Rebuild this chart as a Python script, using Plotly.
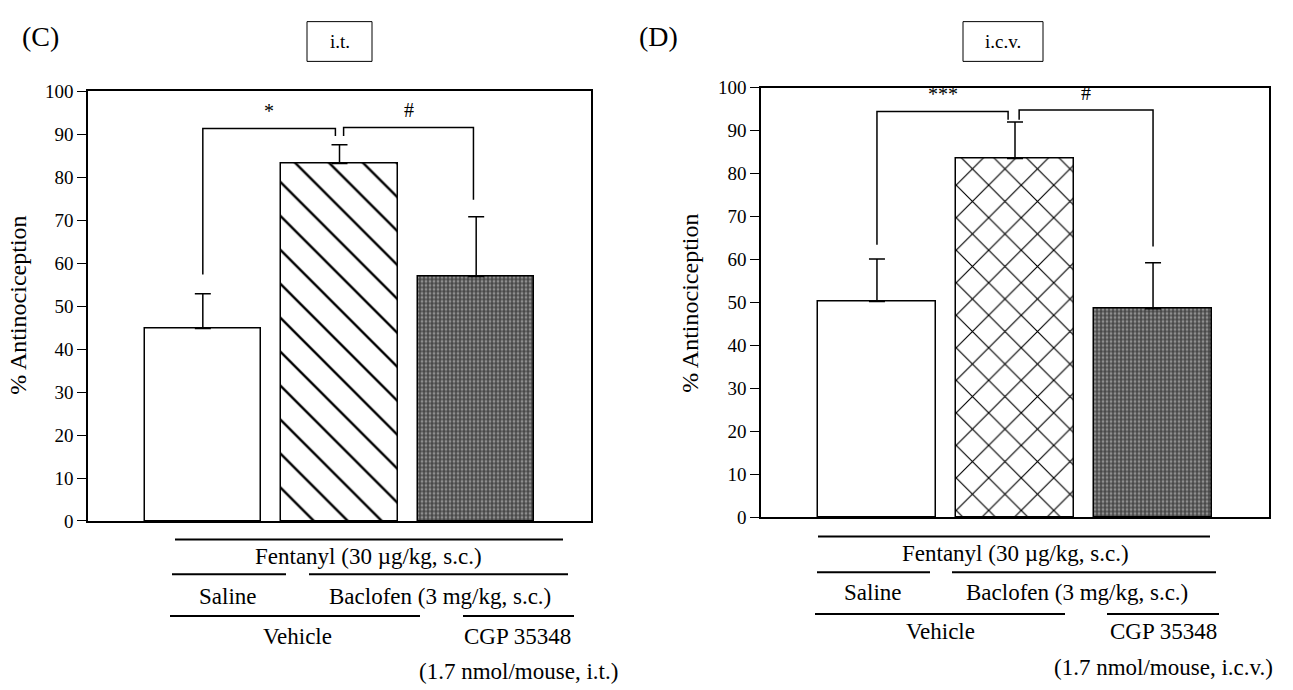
import plotly.graph_objects as go

# ---------------- data ----------------
groups = ["Saline", "Baclofen", "Baclofen + CGP 35348"]
it_means = [44.8, 83.2, 56.9]
it_sem = [8.1, 4.4, 13.9]
icv_means = [50.2, 83.5, 48.5]
icv_sem = [9.9, 8.5, 10.7]
yticks = [0, 10, 20, 30, 40, 50, 60, 70, 80, 90, 100]

# significance brackets: (x_left, x_right, top, drop_left, drop_right, label)
it_brackets = [(0.0, 0.97, 91.4, 57.4, 89.6, "*"), (1.03, 1.98, 91.6, 89.6, 74.8, "#")]
icv_brackets = [(0.0, 0.95, 94.4, 63.4, 92.5, "***"), (1.03, 2.0, 94.8, 92.5, 63.0, "#")]

W, H = 1293, 690
FONT = "Liberation Serif, Times New Roman, serif"


def px(x):
    return x / W


def py(y):
    return 1 - y / H


fig = go.Figure()

pat_hatch = dict(shape="\\", size=24, solidity=0.1, fgcolor="black", fgopacity=1, bgcolor="white")
pat_cross = dict(shape="x", size=23, solidity=0.1, fgcolor="black", fgopacity=1, bgcolor="white")
pat_dark = dict(shape=".", size=4, solidity=0.4, fgcolor="#8f8f8f", fgopacity=1, bgcolor="#484848")


def add_panel(means, sem, pats, xa, ya):
    for i, (m, s, p) in enumerate(zip(means, sem, pats)):
        marker = dict(color="white", line=dict(color="black", width=1.5))
        if p is not None:
            marker["pattern"] = p
            if p["shape"] == ".":
                marker["color"] = "#484848"
        fig.add_trace(go.Bar(
            x=[i], y=[m], width=0.85, marker=marker,
            error_y=dict(type="data", array=[s], arrayminus=[0], symmetric=False,
                         color="black", thickness=1.5, width=8),
            xaxis=xa, yaxis=ya, showlegend=False,
        ))


add_panel(it_means, it_sem, [None, pat_hatch, pat_dark], "x", "y")
add_panel(icv_means, icv_sem, [None, pat_cross, pat_dark], "x2", "y2")

shapes = []
annotations = []


def add_brackets(brs, xref, yref):
    for (xl, xr, top, dl, dr, lab) in brs:
        shapes.append(dict(type="path", xref=xref, yref=yref,
                           path=f"M {xl},{dl} L {xl},{top} L {xr},{top} L {xr},{dr}",
                           line=dict(color="black", width=1.5)))
        annotations.append(dict(x=(xl + xr) / 2, y=top + 1.0, xref=xref, yref=yref,
                                text=lab, showarrow=False, yanchor="bottom",
                                font=dict(family=FONT, size=20, color="black")))


add_brackets(it_brackets, "x", "y")
add_brackets(icv_brackets, "x2", "y2")


def hline(x0, x1, y):
    shapes.append(dict(type="line", xref="paper", yref="paper",
                       x0=px(x0), x1=px(x1), y0=py(y), y1=py(y),
                       line=dict(color="black", width=2)))


def text(x, y, s, size=23):
    annotations.append(dict(x=px(x), y=py(y), xref="paper", yref="paper", text=s,
                            showarrow=False, xanchor="center", yanchor="middle",
                            font=dict(family=FONT, size=size, color="black")))


# left panel labels below the axis
hline(175, 563, 546); text(368, 564, "Fentanyl (30 µg/kg, s.c.)")
hline(172, 286, 582); hline(309, 568, 582)
text(228, 605, "Saline"); text(440, 605, "Baclofen (3 mg/kg, s.c.)")
hline(170, 420, 625); hline(463, 574, 625)
text(297, 646, "Vehicle"); text(517, 646, "CGP 35348")
text(518, 682, "(1.7 nmol/mouse, i.t.)")

# right panel labels below the axis
hline(818, 1210, 543); text(1015, 561, "Fentanyl (30 µg/kg, s.c.)")
hline(817, 930, 580); hline(952, 1216, 580)
text(873, 601, "Saline"); text(1077, 601, "Baclofen (3 mg/kg, s.c.)")
hline(815, 1065, 623); hline(1107, 1219, 623)
text(940, 641, "Vehicle"); text(1163, 641, "CGP 35348")
text(1163, 678, "(1.7 nmol/mouse, i.c.v.)")

# panel letters and route boxes
text(40, 27, "(C)", size=28)
text(658, 27, "(D)", size=28)
shapes.append(dict(type="rect", xref="paper", yref="paper", x0=px(307), x1=px(372),
                   y0=py(53), y1=py(12), line=dict(color="black", width=1)))
text(340, 33, "i.t.", size=19)
shapes.append(dict(type="rect", xref="paper", yref="paper", x0=px(963), x1=px(1043),
                   y0=py(53), y1=py(12), line=dict(color="black", width=1)))
text(1003, 33, "i.c.v.", size=19)

# y axis titles
for xc, yc in [(18, 305), (690, 302)]:
    annotations.append(dict(x=px(xc), y=py(yc), xref="paper", yref="paper",
                            text="% Antinociception", textangle=-90, showarrow=False,
                            xanchor="center", yanchor="middle",
                            font=dict(family=FONT, size=24, color="black")))

xcommon = dict(range=[-0.84, 2.84], showticklabels=False, ticks="", showgrid=False,
               zeroline=False, showline=True, linecolor="black", linewidth=1.5, mirror=True,
               fixedrange=True)
ycommon = dict(range=[0, 100], tickvals=yticks, ticks="outside", ticklen=9, tickwidth=1.2,
               tickcolor="black", showgrid=False, zeroline=False, showline=True,
               linecolor="black", linewidth=1.5, mirror=True,
               tickfont=dict(family=FONT, size=19, color="black"), fixedrange=True)

fig.update_layout(
    width=W, height=H,
    margin=dict(l=0, r=0, t=0, b=0),
    paper_bgcolor="white", plot_bgcolor="white",
    xaxis=dict(domain=[px(88), px(591)], anchor="y", **xcommon),
    yaxis=dict(domain=[py(527), py(84)], anchor="x", **ycommon),
    xaxis2=dict(domain=[px(761), px(1269)], anchor="y2", **xcommon),
    yaxis2=dict(domain=[py(523), py(80)], anchor="x2", **ycommon),
    shapes=shapes, annotations=annotations,
    bargap=0, showlegend=False,
)

fig.write_html("out.html")
